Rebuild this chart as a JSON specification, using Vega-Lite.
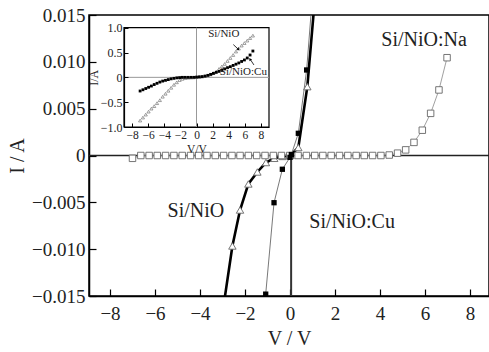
{
  "$schema": "https://vega.github.io/schema/vega-lite/v6.json",
  "width": 400,
  "height": 281,
  "autosize": {"type": "none"},
  "padding": {"left": 89, "top": 15, "right": 0, "bottom": 56},
  "background": "white",
  "config": {
    "view": {"stroke": "black", "strokeWidth": 1.5},
    "font": "Liberation Serif",
    "axis": {"grid": false, "domainColor": "black", "tickColor": "black", "labelColor": "#222", "titleColor": "#222", "labelFont": "Liberation Serif", "titleFont": "Liberation Serif", "titleFontWeight": "normal"},
    "text": {"font": "Liberation Serif"}
  },
  "datasets": {
    "main": [
      {"s": "zero", "V": -9, "I": 0}, {"s": "zero", "V": 9, "I": 0},
      {"s": "vline", "V": 0.05, "I": 0.0003}, {"s": "vline", "V": 0.05, "I": -0.016},
      {"s": "Na", "V": -7.00, "I": -0.0003},
      {"s": "Na", "V": -6.63, "I": 0},
      {"s": "Na", "V": -6.26, "I": 0},
      {"s": "Na", "V": -5.90, "I": 0},
      {"s": "Na", "V": -5.53, "I": 0},
      {"s": "Na", "V": -5.16, "I": 0},
      {"s": "Na", "V": -4.79, "I": 0},
      {"s": "Na", "V": -4.42, "I": 0},
      {"s": "Na", "V": -4.06, "I": 0},
      {"s": "Na", "V": -3.69, "I": 0},
      {"s": "Na", "V": -3.32, "I": 0},
      {"s": "Na", "V": -2.95, "I": 0},
      {"s": "Na", "V": -2.58, "I": 0},
      {"s": "Na", "V": -2.22, "I": 0},
      {"s": "Na", "V": -1.85, "I": 0},
      {"s": "Na", "V": -1.48, "I": 0},
      {"s": "Na", "V": -1.11, "I": 0},
      {"s": "Na", "V": -0.74, "I": 0},
      {"s": "Na", "V": -0.38, "I": 0},
      {"s": "Na", "V": -0.01, "I": 0},
      {"s": "Na", "V": 0.36, "I": 0},
      {"s": "Na", "V": 0.73, "I": 0},
      {"s": "Na", "V": 1.10, "I": 0},
      {"s": "Na", "V": 1.46, "I": 0},
      {"s": "Na", "V": 1.83, "I": 0},
      {"s": "Na", "V": 2.20, "I": 0},
      {"s": "Na", "V": 2.57, "I": 0},
      {"s": "Na", "V": 2.94, "I": 0},
      {"s": "Na", "V": 3.30, "I": 0},
      {"s": "Na", "V": 3.67, "I": 0},
      {"s": "Na", "V": 4.04, "I": 0},
      {"s": "Na", "V": 4.41, "I": 0.00005},
      {"s": "Na", "V": 4.78, "I": 0.00025},
      {"s": "Na", "V": 5.14, "I": 0.0006},
      {"s": "Na", "V": 5.51, "I": 0.0014},
      {"s": "Na", "V": 5.88, "I": 0.0027},
      {"s": "Na", "V": 6.25, "I": 0.0045},
      {"s": "Na", "V": 6.62, "I": 0.0070},
      {"s": "Na", "V": 6.98, "I": 0.01044},
      {"s": "NiO", "V": -2.90, "I": -0.0152},
      {"s": "NiO", "V": -2.56, "I": -0.00966},
      {"s": "NiO", "V": -2.22, "I": -0.00582},
      {"s": "NiO", "V": -1.85, "I": -0.00304},
      {"s": "NiO", "V": -1.45, "I": -0.00176},
      {"s": "NiO", "V": -1.07, "I": -0.00075},
      {"s": "NiO", "V": -0.70, "I": -0.0003},
      {"s": "NiO", "V": -0.33, "I": -0.0001},
      {"s": "NiO", "V": 0.02, "I": 0.0},
      {"s": "NiO", "V": 0.37, "I": 0.00085},
      {"s": "NiO", "V": 0.77, "I": 0.00735},
      {"s": "NiO", "V": 1.05, "I": 0.0152},
      {"s": "Cu", "V": -1.10, "I": -0.0158},
      {"s": "Cu", "V": -1.08, "I": -0.0148},
      {"s": "Cu", "V": -0.71, "I": -0.00504},
      {"s": "Cu", "V": -0.34, "I": -0.00147},
      {"s": "Cu", "V": 0.00, "I": -0.0002},
      {"s": "Cu", "V": 0.06, "I": 0.0001},
      {"s": "Cu", "V": 0.37, "I": 0.00237},
      {"s": "Cu", "V": 0.74, "I": 0.00913},
      {"s": "Cu", "V": 0.95, "I": 0.0156}
    ],
    "labels": [
      {"V": 5.96, "I": 0.0123, "t": "Si/NiO:Na"},
      {"V": -4.18, "I": -0.0059, "t": "Si/NiO"},
      {"V": 2.76, "I": -0.0071, "t": "Si/NiO:Cu"}
    ],
    "inset": [
      {"s": "NiO", "V": -7.00, "I": -0.87}, {"s": "NiO", "V": -6.65, "I": -0.81}, {"s": "NiO", "V": -6.30, "I": -0.75},
      {"s": "NiO", "V": -5.95, "I": -0.69}, {"s": "NiO", "V": -5.60, "I": -0.63}, {"s": "NiO", "V": -5.25, "I": -0.58},
      {"s": "NiO", "V": -4.90, "I": -0.52}, {"s": "NiO", "V": -4.55, "I": -0.46}, {"s": "NiO", "V": -4.20, "I": -0.39},
      {"s": "NiO", "V": -3.85, "I": -0.33}, {"s": "NiO", "V": -3.50, "I": -0.27}, {"s": "NiO", "V": -3.15, "I": -0.21},
      {"s": "NiO", "V": -2.80, "I": -0.15}, {"s": "NiO", "V": -2.45, "I": -0.10}, {"s": "NiO", "V": -2.10, "I": -0.055},
      {"s": "NiO", "V": -1.75, "I": -0.03}, {"s": "NiO", "V": -1.40, "I": -0.015}, {"s": "NiO", "V": -1.05, "I": -0.007},
      {"s": "NiO", "V": -0.70, "I": -0.003}, {"s": "NiO", "V": -0.35, "I": 0.0}, {"s": "NiO", "V": 0.00, "I": 0.005},
      {"s": "NiO", "V": 0.35, "I": 0.01}, {"s": "NiO", "V": 0.70, "I": 0.015}, {"s": "NiO", "V": 1.05, "I": 0.025},
      {"s": "NiO", "V": 1.40, "I": 0.04}, {"s": "NiO", "V": 1.75, "I": 0.06}, {"s": "NiO", "V": 2.10, "I": 0.085},
      {"s": "NiO", "V": 2.45, "I": 0.12}, {"s": "NiO", "V": 2.80, "I": 0.17}, {"s": "NiO", "V": 3.15, "I": 0.22},
      {"s": "NiO", "V": 3.50, "I": 0.27}, {"s": "NiO", "V": 3.85, "I": 0.33}, {"s": "NiO", "V": 4.20, "I": 0.39},
      {"s": "NiO", "V": 4.55, "I": 0.45}, {"s": "NiO", "V": 4.90, "I": 0.52}, {"s": "NiO", "V": 5.25, "I": 0.58},
      {"s": "NiO", "V": 5.60, "I": 0.64}, {"s": "NiO", "V": 5.95, "I": 0.69}, {"s": "NiO", "V": 6.30, "I": 0.74},
      {"s": "NiO", "V": 6.65, "I": 0.79}, {"s": "NiO", "V": 7.00, "I": 0.84},
      {"s": "Cu", "V": -7.00, "I": -0.275}, {"s": "Cu", "V": -6.65, "I": -0.25}, {"s": "Cu", "V": -6.30, "I": -0.225},
      {"s": "Cu", "V": -5.95, "I": -0.20}, {"s": "Cu", "V": -5.60, "I": -0.175}, {"s": "Cu", "V": -5.25, "I": -0.145},
      {"s": "Cu", "V": -4.90, "I": -0.12}, {"s": "Cu", "V": -4.55, "I": -0.095}, {"s": "Cu", "V": -4.20, "I": -0.075},
      {"s": "Cu", "V": -3.85, "I": -0.06}, {"s": "Cu", "V": -3.50, "I": -0.045}, {"s": "Cu", "V": -3.15, "I": -0.03},
      {"s": "Cu", "V": -2.80, "I": -0.02}, {"s": "Cu", "V": -2.45, "I": -0.01}, {"s": "Cu", "V": -2.10, "I": -0.005},
      {"s": "Cu", "V": -1.75, "I": 0.0}, {"s": "Cu", "V": -1.40, "I": 0.0}, {"s": "Cu", "V": -1.05, "I": 0.0},
      {"s": "Cu", "V": -0.70, "I": 0.0}, {"s": "Cu", "V": -0.35, "I": 0.0}, {"s": "Cu", "V": 0.00, "I": 0.005},
      {"s": "Cu", "V": 0.35, "I": 0.01}, {"s": "Cu", "V": 0.70, "I": 0.015}, {"s": "Cu", "V": 1.05, "I": 0.025},
      {"s": "Cu", "V": 1.40, "I": 0.04}, {"s": "Cu", "V": 1.75, "I": 0.06}, {"s": "Cu", "V": 2.10, "I": 0.08},
      {"s": "Cu", "V": 2.45, "I": 0.10}, {"s": "Cu", "V": 2.80, "I": 0.12}, {"s": "Cu", "V": 3.15, "I": 0.14},
      {"s": "Cu", "V": 3.50, "I": 0.17}, {"s": "Cu", "V": 3.85, "I": 0.195}, {"s": "Cu", "V": 4.20, "I": 0.215},
      {"s": "Cu", "V": 4.55, "I": 0.24}, {"s": "Cu", "V": 4.90, "I": 0.265}, {"s": "Cu", "V": 5.25, "I": 0.29},
      {"s": "Cu", "V": 5.60, "I": 0.32}, {"s": "Cu", "V": 5.95, "I": 0.35}, {"s": "Cu", "V": 6.30, "I": 0.39},
      {"s": "Cu", "V": 6.65, "I": 0.45}, {"s": "Cu", "V": 7.00, "I": 0.53}
    ],
    "insetFrame": [{"V": -9, "V2": 9, "I": -1, "I2": 1}],
    "insetZero": [
      {"s": "h", "V": -9, "I": 0}, {"s": "h", "V": 9, "I": 0},
      {"s": "v", "V": 0, "I": -1}, {"s": "v", "V": 0, "I": 1}
    ],
    "insetLabels": [
      {"V": 1.45, "I": 0.87, "t": "Si/NiO"},
      {"V": 2.9, "I": 0.115, "t": "Si/NiO:Cu"}
    ],
    "arrows": [
      {"V": 4.57, "I": 0.66, "V2": 5.1, "I2": 0.58},
      {"V": 7.13, "I": 0.25, "V2": 6.72, "I2": 0.35}
    ]
  },
  "layer": [
    {
      "data": {"name": "main"},
      "encoding": {
        "x": {"field": "V", "type": "quantitative",
          "scale": {"domain": [-8.933, 8.844], "nice": false, "zero": false},
          "axis": {"values": [-8, -6, -4, -2, 0, 2, 4, 6, 8], "format": "d", "title": "V / V",
            "labelFont": "Liberation Serif", "titleFont": "Liberation Serif", "titleFontWeight": "normal",
            "labelFontSize": 19, "titleFontSize": 20, "tickSize": -7, "labelPadding": 15, "titlePadding": 5,
            "domainWidth": 1.5, "tickWidth": 1.2}},
        "y": {"field": "I", "type": "quantitative",
          "scale": {"domain": [-0.015, 0.015], "nice": false, "zero": false},
          "axis": {"values": [-0.015, -0.01, -0.005, 0, 0.005, 0.01, 0.015],
            "labelExpr": "datum.value == 0 ? '0' : format(datum.value, '.3f')",
            "labelFont": "Liberation Serif", "titleFont": "Liberation Serif", "titleFontWeight": "normal",
            "title": "I / A", "labelFontSize": 19, "titleFontSize": 20, "tickSize": -7, "labelPadding": 11, "titlePadding": 4,
            "domainWidth": 1.5, "tickWidth": 1.2}}
      },
      "layer": [
        {"transform": [{"filter": "datum.s == 'zero'"}], "mark": {"type": "line", "color": "#222", "strokeWidth": 1.6, "clip": true}},
        {"transform": [{"filter": "datum.s == 'vline'"}], "mark": {"type": "line", "color": "#333", "strokeWidth": 2, "clip": true}},
        {"transform": [{"filter": "datum.s == 'NiO'"}], "mark": {"type": "line", "color": "black", "strokeWidth": 2.6, "clip": true}},
        {"transform": [{"filter": "datum.s == 'Cu'"}], "mark": {"type": "line", "color": "#555", "strokeWidth": 0.8, "clip": true}},
        {"transform": [{"filter": "datum.s == 'Na'"}], "mark": {"type": "line", "color": "#888", "strokeWidth": 0.8, "clip": true}},
        {"transform": [{"filter": "datum.s == 'NiO' && abs(datum.I) < 0.015"}], "mark": {"type": "point", "shape": "triangle-up", "size": 55, "filled": true, "fill": "white", "stroke": "#666", "strokeWidth": 0.9, "opacity": 1, "clip": true}},
        {"transform": [{"filter": "datum.s == 'Na'"}], "mark": {"type": "point", "shape": "square", "size": 42, "filled": true, "fill": "white", "stroke": "#666", "strokeWidth": 0.9, "opacity": 1, "clip": true}},
        {"transform": [{"filter": "datum.s == 'Cu' && abs(datum.I) <= 0.015"}], "mark": {"type": "point", "shape": "square", "size": 28, "filled": true, "color": "black", "opacity": 1, "clip": true}},
        {"data": {"name": "labels"}, "mark": {"type": "text", "font": "Liberation Serif", "fontSize": 20, "color": "#222", "align": "center", "baseline": "middle"}, "encoding": {"text": {"field": "t"}}}
      ]
    },
    {
      "data": {"name": "inset"},
      "encoding": {
        "x": {"field": "V", "type": "quantitative",
          "scale": {"domain": [-9, 9], "range": [35, 180], "nice": false, "zero": false},
          "axis": {"orient": "bottom", "offset": -169, "zindex": 2, "values": [-8, -6, -4, -2, 0, 2, 4, 6, 8], "format": "d",
            "labelFont": "Liberation Serif", "titleFont": "Liberation Serif", "titleFontWeight": "normal",
            "title": "V/V", "labelFontSize": 11.5, "titleFontSize": 11.5, "tickSize": -4, "labelPadding": 6, "titlePadding": 3,
            "domainWidth": 1.2, "labelOverlap": false}},
        "y": {"field": "I", "type": "quantitative",
          "scale": {"domain": [-1, 1], "range": [112, 12.7], "nice": false, "zero": false},
          "axis": {"orient": "left", "offset": -35, "zindex": 2, "values": [-1, -0.5, 0, 0.5, 1],
            "labelExpr": "datum.value == 0 ? '0' : format(datum.value, '.1f')",
            "labelFont": "Liberation Serif", "titleFont": "Liberation Serif", "titleFontWeight": "normal",
            "title": "I/A", "labelFontSize": 12, "titleFontSize": 12, "tickSize": -4, "labelPadding": 6, "titlePadding": 0,
            "domainWidth": 1.2, "labelOverlap": false}}
      },
      "layer": [
        {"data": {"name": "insetFrame"}, "mark": {"type": "rect", "fill": "white", "stroke": "black", "strokeWidth": 1.2},
          "encoding": {"x2": {"field": "V2"}, "y2": {"field": "I2"}}},
        {"data": {"name": "insetZero"}, "mark": {"type": "line", "color": "#999", "strokeWidth": 1}, "encoding": {"detail": {"field": "s"}}},
        {"transform": [{"filter": "datum.s == 'NiO'"}], "mark": {"type": "point", "shape": "triangle-up", "size": 10, "filled": true, "fill": "white", "stroke": "#777", "strokeWidth": 0.7, "opacity": 1}},
        {"transform": [{"filter": "datum.s == 'Cu'"}], "mark": {"type": "point", "shape": "square", "size": 8, "filled": true, "color": "black", "opacity": 1}},
        {"data": {"name": "insetLabels"}, "mark": {"type": "text", "font": "Liberation Serif", "fontSize": 11, "color": "#222", "align": "left", "baseline": "middle"}, "encoding": {"text": {"field": "t"}}},
        {"data": {"name": "arrows"}, "mark": {"type": "rule", "color": "black", "strokeWidth": 0.8}, "encoding": {"x2": {"field": "V2"}, "y2": {"field": "I2"}}},
        {"data": {"values": [{"V": 5.19, "I": 0.565}]}, "mark": {"type": "point", "shape": "triangle-up", "angle": 135, "size": 10, "filled": true, "color": "black", "opacity": 1}},
        {"data": {"values": [{"V": 6.64, "I": 0.365}]}, "mark": {"type": "point", "shape": "triangle-up", "angle": 325, "size": 10, "filled": true, "color": "black", "opacity": 1}}
      ]
    }
  ],
  "resolve": {"scale": {"x": "independent", "y": "independent"}, "axis": {"x": "independent", "y": "independent"}}
}
